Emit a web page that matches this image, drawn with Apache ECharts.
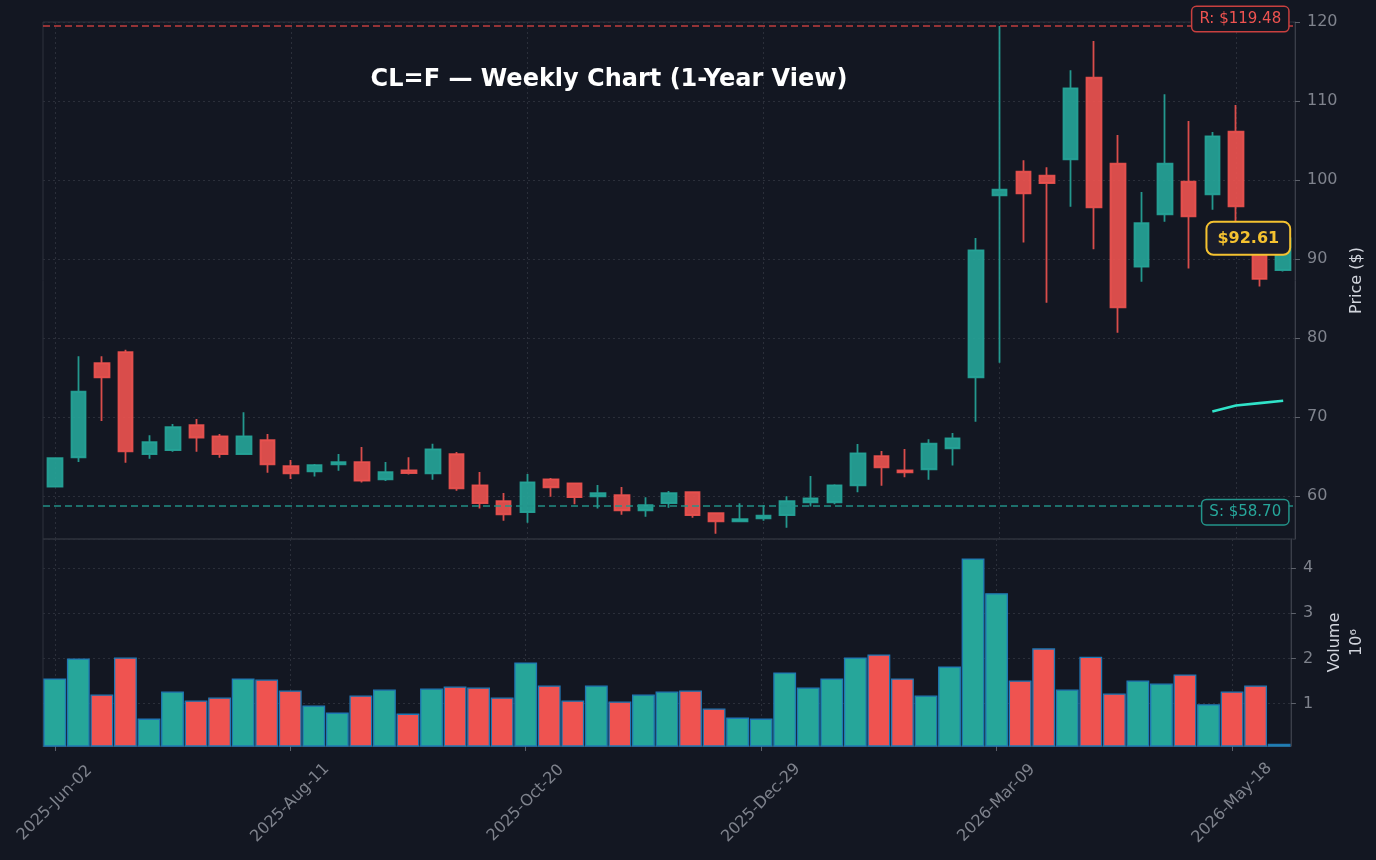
<!DOCTYPE html>
<html><head><meta charset="utf-8">
<script src="https://cdn.jsdelivr.net/npm/echarts@6/dist/echarts.min.js"></script>
<style>html,body{margin:0;padding:0;background:#131722;}#c{width:1376px;height:860px;}</style>
</head><body><div id="c"></div>
<script>
const dates = ['2025-Jun-02','2025-Jun-09','2025-Jun-16','2025-Jun-23','2025-Jun-30','2025-Jul-07','2025-Jul-14','2025-Jul-21','2025-Jul-28','2025-Aug-04',
'2025-Aug-11','2025-Aug-18','2025-Aug-25','2025-Sep-01','2025-Sep-08','2025-Sep-15','2025-Sep-22','2025-Sep-29','2025-Oct-06','2025-Oct-13',
'2025-Oct-20','2025-Oct-27','2025-Nov-03','2025-Nov-10','2025-Nov-17','2025-Nov-24','2025-Dec-01','2025-Dec-08','2025-Dec-15','2025-Dec-22',
'2025-Dec-29','2026-Jan-05','2026-Jan-12','2026-Jan-19','2026-Jan-26','2026-Feb-02','2026-Feb-09','2026-Feb-16','2026-Feb-23','2026-Mar-02',
'2026-Mar-09','2026-Mar-16','2026-Mar-23','2026-Mar-30','2026-Apr-06','2026-Apr-13','2026-Apr-20','2026-Apr-27','2026-May-04','2026-May-11',
'2026-May-18','2026-May-25','2026-Jun-01'];
const opens  = [61.18,64.9,76.8,78.2,65.3,65.8,68.95,67.55,65.3,67.05, 63.76,63.1,64.0,64.27,62.1,63.25,62.87,65.28,61.35,59.33, 57.94,62.11,61.6,59.96,60.09,58.19,59.08,60.47,57.81,56.8, 57.18,57.56,59.2,59.2,61.35,65.03,63.25,63.38,66.04,75.03, 98.06,101.05,100.55,102.62,112.95,102.07,89.03,95.66,99.78,98.19, 106.11,93.5,88.6];
const closes = [64.77,73.2,75.0,65.65,66.8,68.7,67.4,65.3,67.55,64.0, 62.87,63.9,64.27,61.94,63.0,62.9,65.9,60.97,59.08,57.68, 61.73,61.1,59.84,60.34,58.19,58.82,60.34,57.56,56.8,57.05, 57.5,59.33,59.7,61.35,65.4,63.63,63.0,66.62,67.3,91.1, 98.77,98.3,99.62,111.6,96.54,83.88,94.52,102.07,95.4,105.53, 96.67,87.47,92.61];
const lows   = [61.1,64.3,69.5,64.2,64.7,65.6,65.6,64.85,65.2,62.95, 62.15,62.45,63.2,61.7,61.9,62.7,62.06,60.67,58.4,56.87, 56.62,59.9,58.95,58.4,57.63,57.38,58.52,57.25,55.23,56.75, 56.87,55.99,58.65,58.95,60.47,61.3,62.37,62.06,63.84,69.4, 76.87,92.07,84.47,96.62,91.23,80.67,87.13,94.72,88.78,96.24, 93.5,86.5,88.4];
const highs  = [64.9,77.7,77.7,78.5,67.7,69.1,69.75,67.85,70.6,67.85, 64.56,64.05,65.3,66.2,64.3,64.9,66.6,65.57,63.04,60.38, 62.78,62.28,61.7,61.39,61.14,59.84,60.63,60.6,57.94,59.08, 58.82,59.96,62.53,61.48,66.58,65.7,65.95,67.17,67.97,92.66, 119.48,102.5,101.6,113.9,117.6,105.7,98.48,110.85,107.47,106.08, 109.49,94.0,93.0];
const volumes = [1.556,2.0,1.2,2.02,0.667,1.267,1.067,1.133,1.556,1.533, 1.289,0.956,0.8,1.178,1.311,0.778,1.333,1.378,1.356,1.133, 1.911,1.4,1.067,1.4,1.044,1.2,1.267,1.289,0.889,0.689, 0.667,1.689,1.356,1.556,2.022,2.089,1.556,1.178,1.822,4.213, 3.444,1.511,2.222,1.311,2.036,1.222,1.511,1.444,1.644,0.984, 1.267,1.4,0.111];
const maLine = [null,null,null,null,null,null,null,null,null,null, null,null,null,null,null,null,null,null,null,null, null,null,null,null,null,null,null,null,null,null, null,null,null,null,null,null,null,null,null,null, null,null,null,null,null,null,null,null,null,70.7, 71.45,71.75,72.05];
const resistance = 119.48;
const support = 58.70;
const lastPrice = 92.61;
const titleText = 'CL=F \u2014 Weekly Chart (1-Year View)';

const UP = '#26a69a', DOWN = '#ef5350';
const GRIDC = '#2b2f3a', FRAME = '#2e323d', TICKTXT = '#7f838d', NAMETXT = '#d1d4dc';
const FONT = 'DejaVu Sans';

const candleData = opens.map((o, i) => [o, closes[i], lows[i], highs[i]]);
const volData = volumes.map((v, i) => ({value: v, itemStyle: {color: closes[i] >= opens[i] ? UP : DOWN}}));

const chart = echarts.init(document.getElementById('c'), null, {renderer: 'canvas'});
const gridL = 43, gridW = 1252;
chart.setOption({
  animation: false,
  backgroundColor: '#131722',
  textStyle: {fontFamily: FONT},
  title: {text: titleText, left: 604, top: 63, textAlign: 'center',
    textStyle: {color: '#ffffff', fontSize: 24, fontWeight: 'bold', fontFamily: FONT}},
  grid: [
    {left: gridL, width: gridW, top: 22, height: 517, show: true, borderColor: FRAME, borderWidth: 1, backgroundColor: 'transparent'},
    {left: gridL, width: gridW, top: 539, height: 207, show: true, borderColor: FRAME, borderWidth: 1, backgroundColor: 'transparent'}
  ],
  xAxis: [
    {type: 'category', data: dates, gridIndex: 0, boundaryGap: true,
      axisLine: {show: false}, axisTick: {show: false}, axisLabel: {show: false},
      splitLine: {show: true, interval: 9, alignWithLabel: true, lineStyle: {color: GRIDC, type: [2, 3], width: 1}}},
    {type: 'category', data: dates, gridIndex: 1, boundaryGap: true,
      axisLine: {show: true, lineStyle: {color: '#3a3e49'}},
      axisTick: {show: true, interval: 9, alignWithLabel: true, length: 5, lineStyle: {color: '#5d616b'}},
      axisLabel: {show: true, interval: 9, rotate: 45, align: 'center', verticalAlign: 'middle', margin: 57,
        color: TICKTXT, fontSize: 16, fontFamily: FONT},
      splitLine: {show: true, interval: 9, alignWithLabel: true, lineStyle: {color: GRIDC, type: [2, 3], width: 1}}}
  ],
  yAxis: [
    {type: 'value', gridIndex: 0, position: 'right', min: 54.55, max: 120, minInterval: 10, maxInterval: 10,
      name: 'Price ($)', nameLocation: 'middle', nameGap: 43,
      nameTextStyle: {color: NAMETXT, fontSize: 16, fontFamily: FONT},
      axisLine: {show: true, lineStyle: {color: '#3a3e49'}},
      axisTick: {show: true, length: 5, lineStyle: {color: '#5d616b'}},
      axisLabel: {show: true, showMinLabel: false, margin: 12, color: TICKTXT, fontSize: 16, fontFamily: FONT},
      splitLine: {show: true, lineStyle: {color: GRIDC, type: [2, 3], width: 1}}},
    {type: 'value', gridIndex: 1, position: 'right', min: 0.06, max: 4.644, minInterval: 1, maxInterval: 1,
      name: 'Volume\n10\u2076', nameLocation: 'middle', nameGap: 21,
      nameTextStyle: {color: NAMETXT, fontSize: 16, lineHeight: 22, fontFamily: FONT},
      axisLine: {show: true, lineStyle: {color: '#3a3e49'}},
      axisTick: {show: true, length: 5, lineStyle: {color: '#5d616b'}},
      axisLabel: {show: true, showMinLabel: false, showMaxLabel: false, margin: 12, color: TICKTXT, fontSize: 16, fontFamily: FONT},
      splitLine: {show: true, lineStyle: {color: GRIDC, type: [2, 3], width: 1}}}
  ],
  series: [
    {type: 'candlestick', xAxisIndex: 0, yAxisIndex: 0, data: candleData, barWidth: 15,
      itemStyle: {color: UP, color0: DOWN, borderColor: UP, borderColor0: DOWN, borderWidth: 1.8, opacity: 0.9},
      markLine: {silent: true, symbol: ['none', 'none'], label: {show: false},
        data: [
          {yAxis: resistance, lineStyle: {color: '#c9403f', type: [7, 4], width: 1.5, opacity: 0.95}},
          {yAxis: support, lineStyle: {color: '#23958b', type: [7, 4], width: 1.5, opacity: 0.95}}
        ]},
      markPoint: {silent: true, symbol: 'rect', symbolSize: 1, itemStyle: {color: 'transparent'},
        data: [
          {coord: [dates[52], resistance], label: {show: true, position: 'inside', align: 'right', offset: [5, -7],
            formatter: 'R: $' + resistance.toFixed(2), color: '#ef5350', fontSize: 15, fontFamily: FONT,
            backgroundColor: '#131722', borderColor: '#c9403f', borderWidth: 1.5, borderRadius: 4, padding: [5, 7, 4, 7]}},
          {coord: [dates[52], support], label: {show: true, position: 'inside', align: 'right', offset: [5, 6],
            formatter: 'S: $' + support.toFixed(2), color: '#26a69a', fontSize: 15, fontFamily: FONT,
            backgroundColor: '#131722', borderColor: '#23958b', borderWidth: 1.5, borderRadius: 4, padding: [5, 7, 4, 7]}},
          {coord: [dates[52], lastPrice], label: {show: true, position: 'inside', align: 'right', offset: [6, 0],
            formatter: '$' + lastPrice.toFixed(2), color: '#f5c230', fontSize: 16, fontWeight: 'bold', fontFamily: FONT,
            backgroundColor: '#1a1d2b', borderColor: '#f5c230', borderWidth: 2, borderRadius: 6, padding: [8, 10, 7, 10]}}
        ]}},
    {type: 'line', xAxisIndex: 0, yAxisIndex: 0, data: maLine, showSymbol: false, symbol: 'none',
      lineStyle: {color: '#30e3c9', width: 2.6}, z: 3},
    {type: 'bar', xAxisIndex: 1, yAxisIndex: 1, data: volData, barCategoryGap: '3%',
      itemStyle: {borderColor: '#1f77b4', borderWidth: 1.3}}
  ]
});
</script></body></html>
